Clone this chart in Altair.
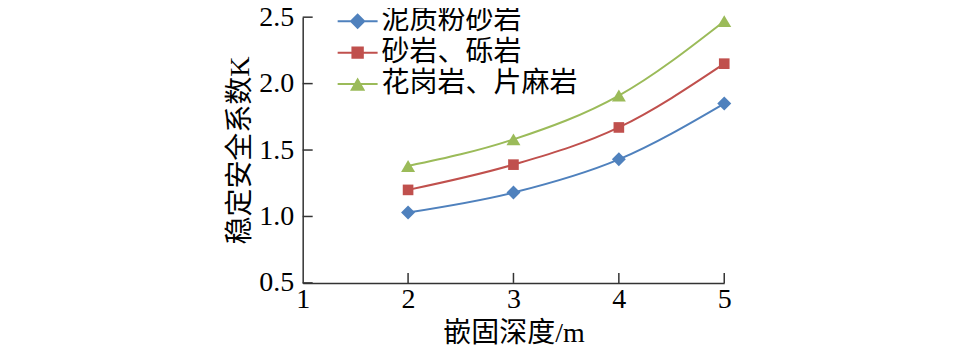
import altair as alt
import pandas as pd

# ---- data ----
depth = [2, 3, 4, 5]
series = ["泥质粉砂岩", "砂岩、砾岩", "花岗岩、片麻岩"]
k_mudstone = [1.03, 1.18, 1.43, 1.85]
k_sandstone = [1.20, 1.39, 1.67, 2.15]
k_granite = [1.38, 1.58, 1.91, 2.47]
x_ticks = [1, 2, 3, 4, 5]
y_ticks = [0.5, 1.0, 1.5, 2.0, 2.5]

# ---- styling ----
colors = ["#4F81BD", "#C0504D", "#9BBB59"]
marker_paths = [
    "M0,-1L1,0L0,1L-1,0Z",
    "M-0.76,-0.76H0.76V0.76H-0.76Z",
    "M0,-0.85L1,0.85L-1,0.85Z",
]
legend_paths = [
    "M-2,-0.1H2V0.1H-2Z M0,-0.8L0.8,0L0,0.8L-0.8,0Z",
    "M-2,-0.1H2V0.1H-2Z M-0.62,-0.62H0.62V0.62H-0.62Z",
    "M-2,-0.1H2V0.1H-2Z M0,-0.66L0.76,0.66L-0.76,0.66Z",
]
FONT = "Liberation Serif, Noto Sans CJK SC"
NUM_FONT = "Liberation Serif"
AXIS_COLOR = "#333333"

rows = []
for name, vals in zip(series, [k_mudstone, k_sandstone, k_granite]):
    for d, v in zip(depth, vals):
        rows.append({"depth": d, "K": v, "series": name})
df = pd.DataFrame(rows)

xscale = alt.Scale(domain=[1, 5], nice=False, zero=False)
yscale = alt.Scale(domain=[0.5, 2.5], nice=False, zero=False)

xaxis = alt.Axis(values=x_ticks, format="d", ticks=False, tickSize=0, grid=False,
                 labelFlush=False, labelPadding=3, title="嵌固深度/m", titlePadding=6)
yaxis = alt.Axis(values=y_ticks, format=".1f", ticks=False, tickSize=0, grid=False,
                 labelFlush=False, labelPadding=9, title="稳定安全系数K", titlePadding=4)

X = alt.X("depth:Q", scale=xscale, axis=xaxis)
Y = alt.Y("K:Q", scale=yscale, axis=yaxis)

color_nolegend = alt.Color("series:N", scale=alt.Scale(domain=series, range=colors), legend=None)

lines = alt.Chart(df).mark_line(interpolate="monotone", strokeWidth=2).encode(
    x=X, y=Y, color=color_nolegend
)

points = alt.Chart(df).mark_point(filled=True, opacity=1, size=196, strokeWidth=0).encode(
    x=X, y=Y, color=color_nolegend,
    shape=alt.Shape("series:N", scale=alt.Scale(domain=series, range=marker_paths), legend=None),
)

leg = alt.Legend(orient="none", legendX=41, legendY=-10, title=None, symbolSize=400,
                 symbolStrokeWidth=0, labelFont=FONT, labelFontSize=28, labelColor="black",
                 labelOffset=10, rowPadding=3.5, padding=0, labelLimit=0, symbolOpacity=1)

legend_layer = alt.Chart(df).transform_filter("datum.depth > 100").mark_point(
    filled=True, opacity=1
).encode(
    x=X, y=Y,
    color=alt.Color("series:N", scale=alt.Scale(domain=series, range=colors), legend=leg),
    shape=alt.Shape("series:N", scale=alt.Scale(domain=series, range=legend_paths), legend=leg),
)

xtick_layer = alt.Chart(pd.DataFrame({"depth": x_ticks[1:]})).mark_rule(
    color=AXIS_COLOR, strokeWidth=1.5
).encode(x=X, y=alt.value(266), y2=alt.value(256))

ytick_layer = alt.Chart(pd.DataFrame({"K": y_ticks})).mark_rule(
    color=AXIS_COLOR, strokeWidth=1.5
).encode(y=Y, x=alt.value(0), x2=alt.value(10))

chart = alt.layer(xtick_layer, ytick_layer, lines, points, legend_layer).resolve_scale(
    color="independent", shape="independent"
).properties(
    width=422, height=266,
    autosize=alt.AutoSizeParams(type="none"),
    padding={"left": 295, "top": 9, "right": 225, "bottom": 75},
).configure_view(stroke=None).configure_axis(
    domainColor=AXIS_COLOR, domainWidth=1.5,
    labelFont=NUM_FONT, labelFontSize=28, labelColor="black",
    titleFont=FONT, titleFontSize=28, titleFontWeight="normal", titleColor="black",
)

chart.save("out.html", embed_options={"renderer": "svg", "actions": False})
